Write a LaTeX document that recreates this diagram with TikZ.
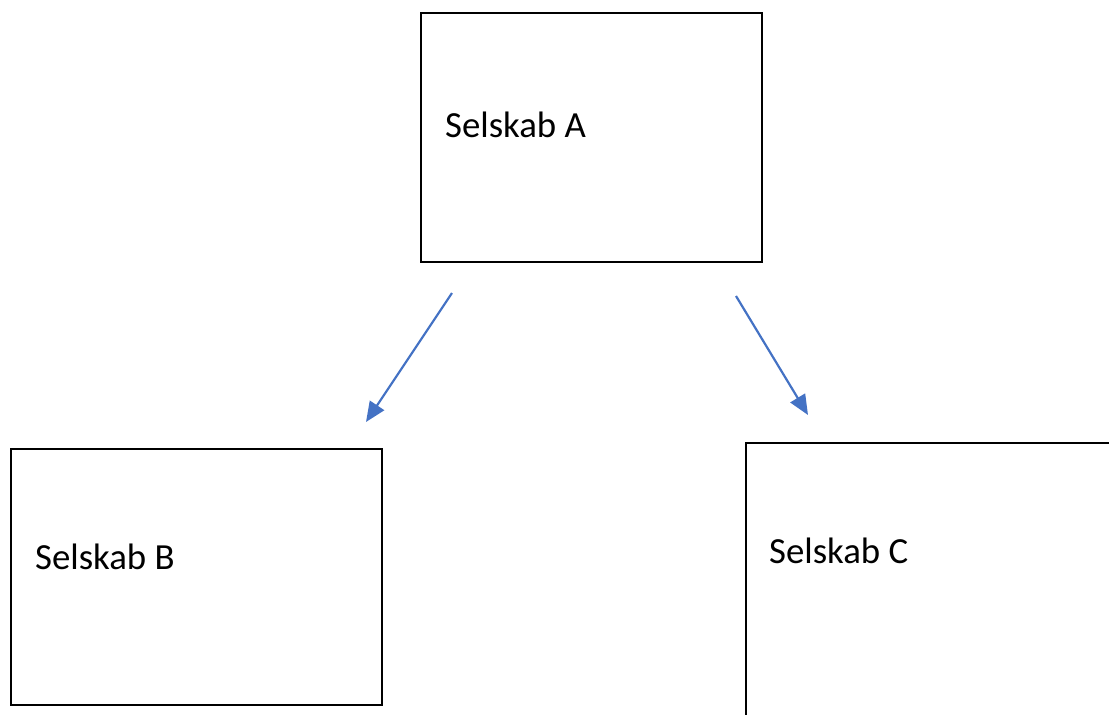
\documentclass[tikz,border=0pt]{standalone}
\usepackage{fontspec}
\setmainfont{Carlito}
\usetikzlibrary{arrows.meta}

\definecolor{arrowblue}{HTML}{4472C4}

\tikzset{
    company/.style={draw, line width=2pt, inner sep=0pt, outer sep=0pt, anchor=north west},
    companylabel/.style={anchor=base west, inner sep=0pt, font=\fontsize{36.8}{44}\selectfont},
    owns/.style={-{Triangle[length=20pt,width=17pt]}, line width=2.2pt, draw=arrowblue}
}

\begin{document}
\begin{tikzpicture}[x=1pt, y=-1pt]

        \useasboundingbox (0,0) rectangle (1109,715);
        \clip (0,0) rectangle (1109,715);

        % the three companies
        \node[company, minimum width=341pt, minimum height=249pt] (boxA) at (421,13) {};
        \node[company, minimum width=371pt, minimum height=256pt] (boxB) at (11,449) {};
        \node[company, minimum width=380pt, minimum height=300pt] (boxC) at (746,443) {};

        \node[companylabel] (labelA) at ([shift={(24,124)}]boxA.north west) {Selskab A};
        \node[companylabel] (labelB) at ([shift={(24,120)}]boxB.north west) {Selskab B};
        \node[companylabel] (labelC) at ([shift={(23,120)}]boxC.north west) {Selskab C};

        % ownership arrows
        \coordinate (startB) at (452,293);
        \coordinate (endB) at (366,422);
        \coordinate (startC) at (736,296);
        \coordinate (endC) at (808,415);
        \draw[owns] (startB) -- (endB);
        \draw[owns] (startC) -- (endC);
    \end{tikzpicture}
\end{document}
